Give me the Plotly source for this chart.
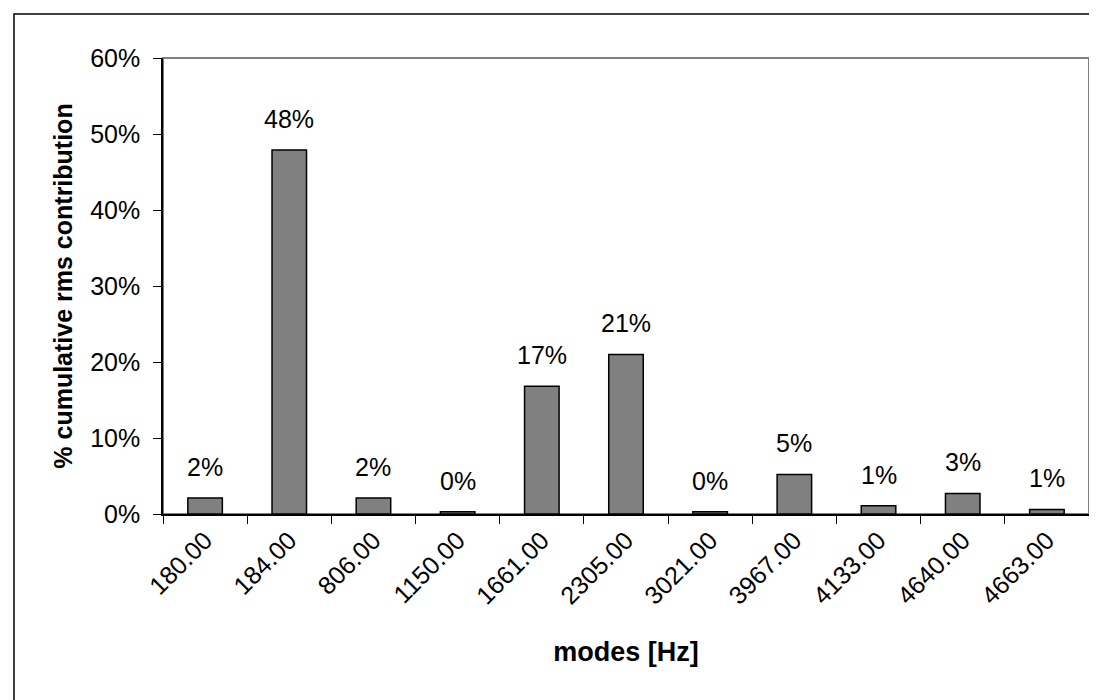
import plotly.graph_objects as go

# modes [Hz] and their share of the cumulative rms response
modes = ["180.00", "184.00", "806.00", "1150.00", "1661.00", "2305.00",
         "3021.00", "3967.00", "4133.00", "4640.00", "4663.00"]
contribution = [0.021, 0.479, 0.021, 0.003, 0.168, 0.210,
                0.003, 0.052, 0.011, 0.027, 0.006]

FONT = "Liberation Sans, Arial, sans-serif"

W, H = 1097, 700
ML, MR, MT, MB = 155, 16, 50, 194
pw = W - ML - MR
ph = H - MT - MB

fig = go.Figure()
fig.add_trace(go.Bar(
    x=modes, y=contribution,
    marker=dict(color="#808080", line=dict(color="black", width=1.5)),
    showlegend=False,
))

# value labels above the bars, like the Excel data labels
for i, v in enumerate(contribution):
    fig.add_annotation(x=i, y=v, text=f"{v:.0%}", showarrow=False,
                       yanchor="bottom", yshift=15,
                       font=dict(family=FONT, size=25, color="black"))

# grey plot-area frame
fig.add_shape(type="rect", xref="paper", yref="paper", x0=0, x1=1, y0=0, y1=1,
              line=dict(color="#808080", width=2), layer="below")
# outer chart border (runs off the right/bottom edge of the picture)
fig.add_shape(type="rect", xref="paper", yref="paper",
              x0=(6 - ML) / pw, x1=(W + 20 - ML) / pw,
              y0=(H - MB - (H + 20)) / ph, y1=(H - MB - 6) / ph,
              line=dict(color="black", width=1.5), layer="below")

fig.update_layout(
    width=W, height=H,
    margin=dict(l=ML, r=MR, t=MT, b=MB),
    paper_bgcolor="white", plot_bgcolor="white",
    font=dict(family=FONT, size=25, color="black"),
    bargap=0.59,
)
fig.update_xaxes(
    type="category", range=[-0.5, len(modes) - 0.5],
    showline=True, linecolor="black", linewidth=1.5,
    ticks="outside", ticklen=8, tickcolor="black", tickson="boundaries",
    tickangle=-45,
    tickfont=dict(family=FONT, size=25),
    title=dict(text="<b>modes [Hz]</b>", font=dict(family=FONT, size=27), standoff=34),
    showgrid=False,
)
fig.update_yaxes(
    range=[0, 0.6], dtick=0.1, tickformat=".0%",
    showline=True, linecolor="black", linewidth=1.5,
    ticks="outside", ticklen=8, tickcolor="black",
    ticklabelstandoff=8,
    tickfont=dict(family=FONT, size=25),
    title=dict(text="<b>% cumulative rms contribution</b>", font=dict(family=FONT, size=25), standoff=10),
    showgrid=False, zeroline=False,
)

fig.write_html("out.html")
